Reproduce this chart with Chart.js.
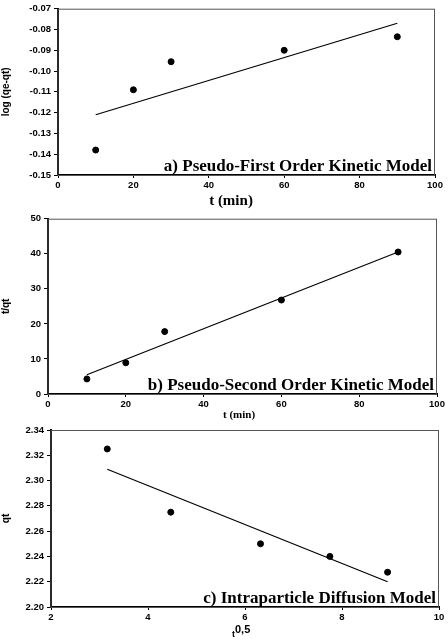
<!DOCTYPE html>
<html>
<head>
<meta charset="utf-8">
<script src="https://cdn.jsdelivr.net/npm/chart.js@4"></script>
<style>
  html, body { margin: 0; padding: 0; background: #fff; }
  .box { position: absolute; left: 0; width: 448px; }
</style>
</head>
<body>
<div class="box" style="top:0;height:210px"><canvas id="chartA"></canvas></div>
<div class="box" style="top:210px;height:210px"><canvas id="chartB"></canvas></div>
<div class="box" style="top:420px;height:220px"><canvas id="chartC"></canvas></div>
<script>
// a) pseudo-first order
const timeA = [10, 20, 30, 60, 90];
const logQ = [-0.138, -0.109, -0.0955, -0.090, -0.0835];
const fitA = [[10, -0.121], [90, -0.077]];

// b) pseudo-second order
const timeB = [10, 20, 30, 60, 90];
const tOverQ = [4.3, 8.9, 17.8, 26.8, 40.5];
const fitB = [[10, 5.5], [90, 40.5]];

// c) intraparticle diffusion
const sqrtT = [3.16, 4.47, 6.32, 7.75, 8.94];
const qt = [2.325, 2.275, 2.25, 2.24, 2.2275];
const fitC = [[3.16, 2.309], [8.94, 2.22]];

const tickFont = { family: "Liberation Sans", size: 9.5, weight: "bold" };

// frame around the plot area (top/right thin)
const framePlugin = {
  id: "frame",
  afterDraw(chart) {
    const a = chart.chartArea, c = chart.ctx;
    c.save();
    c.strokeStyle = "#555";
    c.lineWidth = 1;
    c.strokeRect(a.left, a.top + 0.5, a.right - a.left - 0.5, a.bottom - a.top);
    c.restore();
  }
};

// model label inside the plot + custom x title
const labelPlugin = {
  id: "label",
  afterDraw(chart, args, opts) {
    const a = chart.chartArea, c = chart.ctx;
    c.save();
    c.fillStyle = "#000";
    c.textAlign = "right";
    c.textBaseline = "alphabetic";
    c.font = "bold " + opts.size + "px 'Liberation Serif'";
    c.fillText(opts.text, a.right - 3, a.bottom - 4);
    if (opts.xTitle) {
      c.textAlign = "center";
      c.font = opts.xTitle.font;
      c.fillText(opts.xTitle.text, opts.xTitle.x, opts.xTitle.y);
    }
    if (opts.sup) {
      c.textAlign = "left";
      c.font = "bold 9px 'Liberation Sans'";
      c.fillText("t", opts.sup.x, opts.sup.y);
      c.font = "bold 11px 'Liberation Sans'";
      c.fillText("0,5", opts.sup.x + 3, opts.sup.y - 4);
    }
    c.restore();
  }
};

function pts(xs, ys) {
  return xs.map((x, i) => ({ x: x, y: ys[i] }));
}

function makeChart(id, cfg) {
  return new Chart(document.getElementById(id), {
    type: "scatter",
    data: {
      datasets: [{
        data: pts(cfg.xs, cfg.ys),
        pointRadius: 3,
        pointBackgroundColor: "#000",
        pointBorderColor: "#000",
        showLine: false
      }, {
        data: cfg.fit.map(p => ({ x: p[0], y: p[1] })),
        showLine: true,
        pointRadius: 0,
        borderColor: "#000",
        borderWidth: 1.2
      }]
    },
    options: {
      responsive: true,
      maintainAspectRatio: false,
      animation: false,
      layout: { padding: cfg.pad },
      plugins: {
        legend: { display: false },
        tooltip: { enabled: false },
        label: cfg.label
      },
      scales: {
        x: {
          type: "linear",
          min: cfg.xr[0], max: cfg.xr[1],
          border: { color: "#000", width: 2 },
          grid: { drawOnChartArea: false, tickLength: 3, color: "#000" },
          ticks: { stepSize: cfg.xr[2], color: "#000", font: tickFont, padding: 2, maxRotation: 0 },
          afterFit: s => { s.height = cfg.xh; }
        },
        y: {
          min: cfg.yr[0], max: cfg.yr[1],
          border: { color: "#000", width: 2 },
          grid: { drawOnChartArea: false, tickLength: 4, color: "#000" },
          ticks: {
            stepSize: cfg.yr[2], color: "#000", font: tickFont, padding: 3,
            callback: v => v.toFixed(cfg.yd)
          },
          title: {
            display: true, text: cfg.yTitle, color: "#000",
            font: { family: "Liberation Sans", size: 10, weight: "bold" },
            padding: 0
          },
          afterFit: s => { s.width = cfg.yw; }
        }
      }
    },
    plugins: [framePlugin, labelPlugin]
  });
}

makeChart("chartA", {
  xs: timeA, ys: logQ, fit: fitA,
  xr: [0, 100, 20], yr: [-0.15, -0.07, 0.01], yd: 2,
  yTitle: "log (qe-qt)", yw: 58, xh: 35,
  pad: { top: 4, right: 13, left: 0, bottom: 0 },
  label: { text: "a) Pseudo-First Order Kinetic Model", size: 17,
           xTitle: { text: "t (min)", font: "bold 15px 'Liberation Serif'", x: 231, y: 205 } }
});

makeChart("chartB", {
  xs: timeB, ys: tOverQ, fit: fitB,
  xr: [0, 100, 20], yr: [0, 50, 10], yd: 0,
  yTitle: "t/qt", yw: 48, xh: 26,
  pad: { top: 5, right: 11, left: 0, bottom: 0 },
  label: { text: "b) Pseudo-Second Order Kinetic Model", size: 17,
           xTitle: { text: "t (min)", font: "bold 11px 'Liberation Serif'", x: 239, y: 208 } }
});

makeChart("chartC", {
  xs: sqrtT, ys: qt, fit: fitC,
  xr: [2, 10, 2], yr: [2.2, 2.34, 0.02], yd: 2,
  yTitle: "qt", yw: 51, xh: 33,
  pad: { top: 10, right: 9, left: 0, bottom: 0 },
  label: { text: "c) Intraparticle Diffusion Model", size: 17, sup: { x: 232, y: 217 } }
});
</script>
</body>
</html>
